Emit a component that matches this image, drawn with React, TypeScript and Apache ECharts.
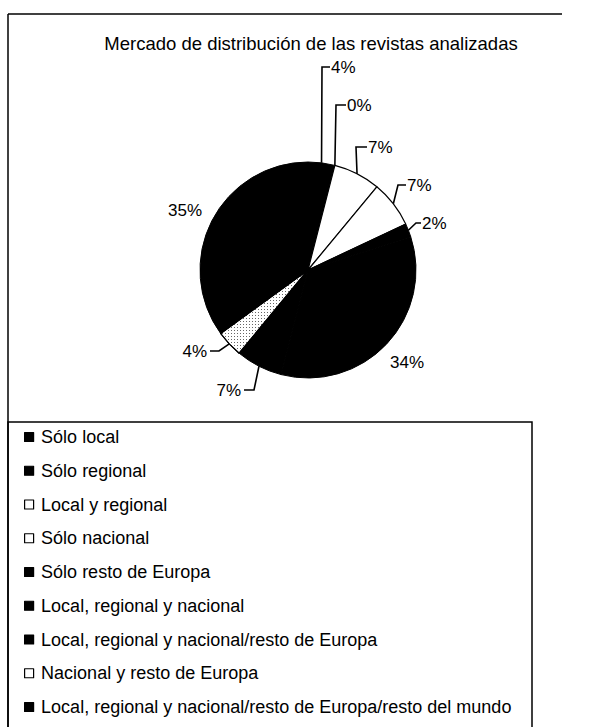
import React, { useEffect, useRef } from 'react';
import * as echarts from 'echarts';

// ---------- data ----------
const chartTitle = 'Mercado de distribución de las revistas analizadas';
const categories = [
  'Sólo local',
  'Sólo regional',
  'Local y regional',
  'Sólo nacional',
  'Sólo resto de Europa',
  'Local, regional y nacional',
  'Local, regional y nacional/resto de Europa',
  'Nacional y resto de Europa',
  'Local, regional y nacional/resto de Europa/resto del mundo',
];
const shares = [4, 0, 7, 7, 2, 34, 7, 4, 35];
const fills = ['black', 'black', 'white', 'white', 'black', 'black', 'black', 'dotted', 'black'];

// ---------- layout ----------
const CX = 308;
const CY = 270;
const R = 108;
const FONT = "'Liberation Sans', Arial, Helvetica, sans-serif";

// label text anchor, alignment and leader elbow (null = no leader)
const labelSpots: { x: number; y: number; align: string; elbow: number[] | null; line: boolean }[] = [
  { x: 331, y: 67, align: 'left', elbow: [322, 67], line: true },
  { x: 347, y: 105, align: 'left', elbow: [336, 105], line: true },
  { x: 368, y: 147, align: 'left', elbow: [356, 147], line: true },
  { x: 407, y: 185, align: 'left', elbow: [398, 185], line: true },
  { x: 422, y: 223, align: 'left', elbow: [416, 223], line: true },
  { x: 390, y: 362, align: 'left', elbow: null, line: false },
  { x: 241, y: 390, align: 'right', elbow: [254, 390], line: true },
  { x: 207, y: 351, align: 'right', elbow: [219, 351], line: true },
  { x: 168, y: 210, align: 'left', elbow: null, line: false },
];

function edgePoint(i: number): number[] {
  const total = shares.reduce((a, b) => a + b, 0);
  let before = 0;
  for (let k = 0; k < i; k++) before += shares[k];
  const mid = ((before + shares[i] / 2) / total) * Math.PI * 2;
  return [CX + R * Math.sin(mid), CY - R * Math.cos(mid)];
}

function itemStyleFor(kind: string) {
  if (kind === 'black') return { color: '#000', borderColor: '#000', borderWidth: 1 };
  if (kind === 'white') return { color: '#fff', borderColor: '#000', borderWidth: 1.2 };
  return {
    color: '#fff',
    borderColor: '#000',
    borderWidth: 1.2,
    decal: {
      symbol: 'rect',
      symbolSize: 1,
      color: 'rgba(0,0,0,0.6)',
      dashArrayX: [1, 2],
      dashArrayY: [1, 2],
      rotation: 0,
    },
  };
}

export default function App() {
  const ref = useRef<HTMLDivElement>(null);

  useEffect(() => {
    if (!ref.current) return;
    const chart = echarts.init(ref.current, null, { renderer: 'svg' });

    const data = categories.map((name, i) => ({
      name,
      value: shares[i],
      itemStyle: itemStyleFor(fills[i]),
      labelLine: { show: labelSpots[i].line },
    }));

    const legendData = categories.map((name, i) =>
      fills[i] === 'dotted' ? { name, itemStyle: { color: '#fff', decal: 'none' } } : { name }
    );

    chart.setOption({
      animation: false,
      backgroundColor: '#fff',
      title: {
        text: chartTitle,
        left: 311,
        top: 34,
        textAlign: 'center',
        padding: 0,
        textStyle: {
          fontFamily: FONT,
          fontSize: 18.5,
          fontWeight: 'normal',
          color: '#000',
          lineHeight: 19,
        },
      },
      legend: {
        orient: 'vertical',
        left: 24,
        top: 427,
        padding: 0,
        itemWidth: 14,
        itemHeight: 9,
        itemGap: 13.75,
        icon: 'path://M0 0H10V10H0Z',
        selectedMode: false,
        itemStyle: { borderColor: '#000', borderWidth: 1.2 },
        textStyle: {
          fontFamily: FONT,
          fontSize: 18,
          color: '#000',
          lineHeight: 20,
        },
        data: legendData,
      },
      graphic: [
        {
          type: 'line',
          shape: { x1: 8, y1: 14, x2: 562, y2: 14 },
          style: { stroke: '#000', lineWidth: 1.5 },
          silent: true,
        },
        {
          type: 'line',
          shape: { x1: 8, y1: 14, x2: 8, y2: 727 },
          style: { stroke: '#000', lineWidth: 1.5 },
          silent: true,
        },
        {
          type: 'rect',
          shape: { x: 8, y: 422, width: 524, height: 330 },
          style: { fill: 'none', stroke: '#000', lineWidth: 1.5 },
          silent: true,
        },
      ],
      series: [
        {
          type: 'pie',
          center: [CX, CY],
          radius: R,
          startAngle: 90,
          clockwise: true,
          silent: true,
          data,
          label: {
            show: true,
            formatter: (p: any) => `${p.value}%`,
            fontFamily: FONT,
            fontSize: 17,
            color: '#000',
          },
          labelLine: {
            show: true,
            lineStyle: { color: '#000', width: 1.6 },
          },
          labelLayout: (params: any) => {
            const i = params.dataIndex;
            const s = labelSpots[i];
            const res: any = { x: s.x, y: s.y, align: s.align, verticalAlign: 'middle' };
            if (s.elbow) {
              const e = edgePoint(i);
              const endX = s.align === 'left' ? s.x - 1 : s.x + 3;
              res.labelLinePoints = [e, s.elbow, [endX, s.y]];
            }
            return res;
          },
        },
      ],
    });

    return () => chart.dispose();
  }, []);

  return (
    <div
      ref={ref}
      style={{ position: 'absolute', left: 0, top: 0, width: 593, height: 727, background: '#fff' }}
    />
  );
}
